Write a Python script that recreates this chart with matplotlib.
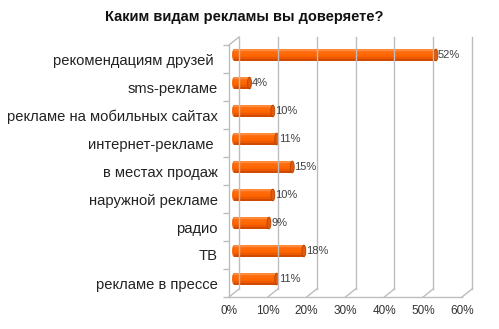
import matplotlib
matplotlib.use('Agg')
import matplotlib.pyplot as plt
import matplotlib.transforms as mtransforms
from matplotlib.patches import Ellipse
import numpy as np

plt.rcParams['font.family'] = ['Liberation Sans', 'DejaVu Sans']

categories = ['рекомендациям друзей ', 'sms-рекламе', 'рекламе на мобильных сайтах',
              'интернет-рекламе ', 'в местах продаж', 'наружной рекламе', 'радио',
              'ТВ', 'рекламе в прессе']
values = [52, 4, 10, 11, 15, 10, 9, 18, 11]
xticks = [0, 10, 20, 30, 40, 50, 60]

W, H = 499, 329
fig = plt.figure(figsize=(W / 100, H / 100), dpi=100)
fig.patch.set_facecolor('white')

# front plane of the pseudo-3d box, in pixels
left, right, top, bottom = 229, 462, 45, 297
ax = fig.add_axes([left / W, 1 - bottom / H, (right - left) / W, (bottom - top) / H])
ax.set_xlim(0, 60)
ax.set_ylim(len(categories) - 0.5, -0.5)
ax.patch.set_visible(False)
for s in ax.spines.values():
    s.set_visible(False)

grid_c = '#bdbdbd'
back = ax.transData + mtransforms.ScaledTranslation(10 / 100, 8 / 100, fig.dpi_scale_trans)
mid = ax.transData + mtransforms.ScaledTranslation(5 / 100, 4 / 100, fig.dpi_scale_trans)
y0, y1 = len(categories) - 0.5, -0.5

# back wall gridlines
for t in xticks:
    ax.plot([t, t], [y0, y1], color=grid_c, lw=1, transform=back, clip_on=False)
# floor diagonals and front floor line
for t in xticks:
    p0 = ax.transData.transform((t, y0))
    p1 = back.transform((t, y0))
    ax.plot([p0[0], p1[0]], [p0[1], p1[1]], color=grid_c, lw=1,
            transform=None, clip_on=False)
ax.plot([0, 60], [y0, y0], color=grid_c, lw=1, clip_on=False)
# left wall
ax.plot([0, 0], [y0, y1], color=grid_c, lw=1, clip_on=False)
p0 = ax.transData.transform((0, y1))
p1 = back.transform((0, y1))
ax.plot([p0[0], p1[0]], [p0[1], p1[1]], color=grid_c, lw=1, transform=None, clip_on=False)

# bars as shaded cylinders
shades = ['#ff8a3a', '#ff7018', '#ff6a0a', '#ff6600', '#f86200', '#ec5800', '#d04a00']
h = 0.42
n = len(shades)
for i, v in enumerate(values):
    ax.add_patch(Ellipse((0, i), 1.0, h, facecolor='#f86200', lw=0, transform=mid))
    for k, c in enumerate(shades):
        yy = i - h / 2 + (k + 0.5) * h / n
        ax.barh(yy, v, height=h / n + 0.005, color=c, lw=0, transform=mid)
    ax.add_patch(Ellipse((v, i), 1.0, h, facecolor='#e05a10', edgecolor='#b84400',
                         lw=0.6, transform=mid))
    ax.text(v + 0.55, i, f'{v}%', transform=mid, ha='left', va='center',
            fontsize=8, color='#404040')

ax.set_xticks(xticks)
ax.set_xticklabels([f'{t}%' for t in xticks], fontsize=8.5, color='#333333')
ax.tick_params(axis='x', length=0, pad=6)
ax.set_yticks(range(len(categories)))
ax.set_yticklabels(categories, fontsize=10.6, color='#222222')
ax.set_yticks(np.arange(len(categories) + 1) - 0.5, minor=True)
ax.tick_params(axis='y', which='major', length=0, pad=8)
ax.tick_params(axis='y', which='minor', length=4, color=grid_c, width=1)

fig.text(244 / W, 1 - 17 / H, 'Каким видам рекламы вы доверяете?', ha='center',
         va='center', fontsize=10.5, fontweight='bold', color='#111111')

fig.savefig('out.png', dpi=100)
